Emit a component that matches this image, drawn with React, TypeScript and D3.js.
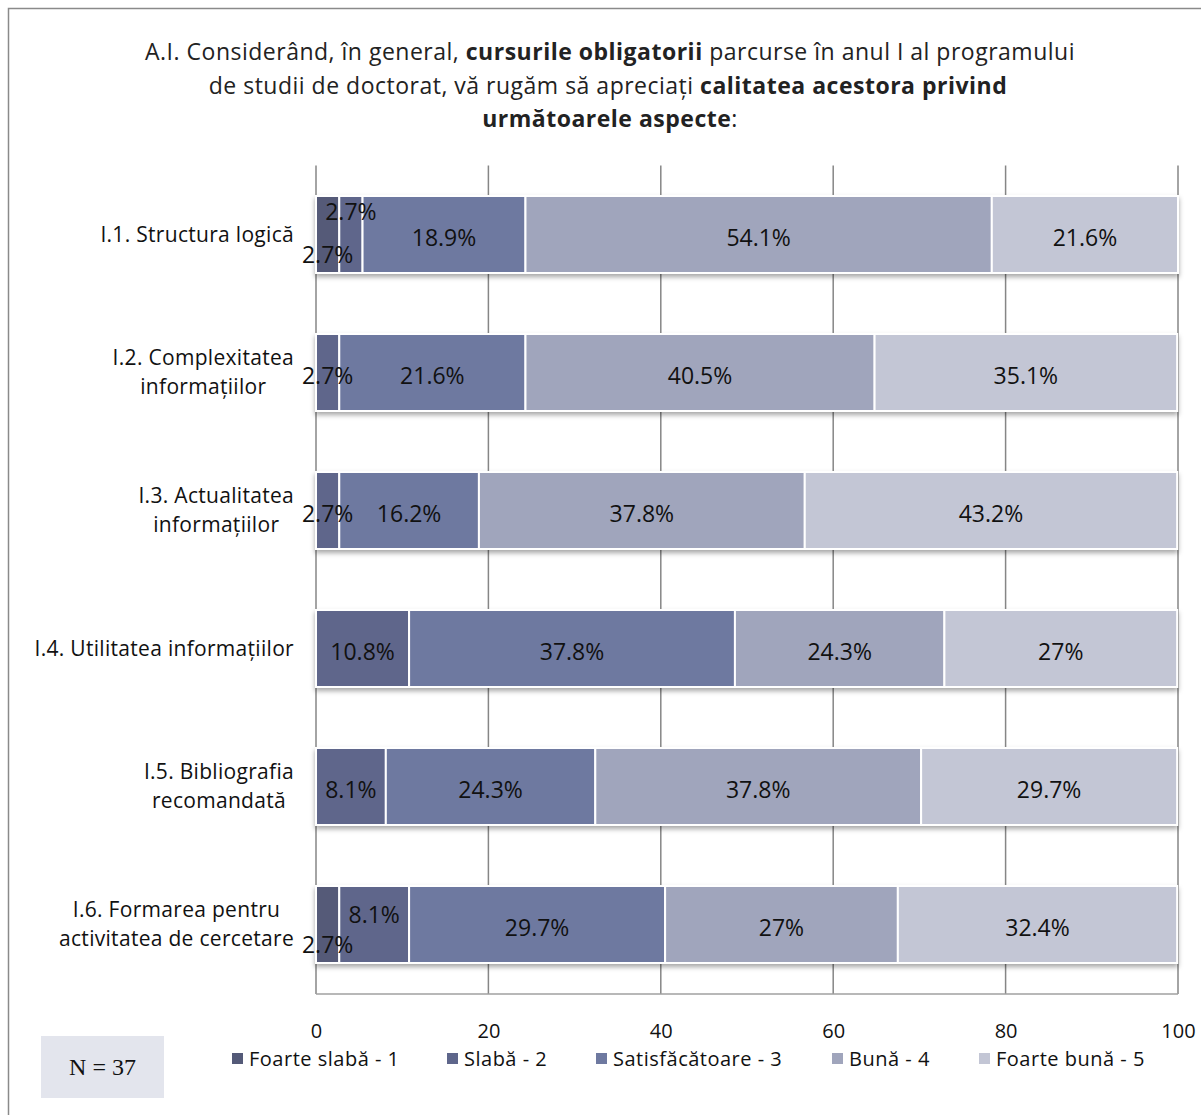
import React, { useEffect, useRef } from "react";
import * as d3 from "d3";

const categories = [
  "I.1. Structura logică",
  "I.2. Complexitatea\ninformațiilor",
  "I.3. Actualitatea\ninformațiilor",
  "I.4. Utilitatea informațiilor",
  "I.5. Bibliografia\nrecomandată",
  "I.6. Formarea pentru\nactivitatea de cercetare",
];

const seriesNames = [
  "Foarte slabă - 1",
  "Slabă - 2",
  "Satisfăcătoare - 3",
  "Bună - 4",
  "Foarte bună - 5",
];

const foarteSlaba = [2.7, 0, 0, 0, 0, 2.7];
const slaba = [2.7, 2.7, 2.7, 10.8, 8.1, 8.1];
const satisfacatoare = [18.9, 21.6, 16.2, 37.8, 24.3, 29.7];
const buna = [54.1, 40.5, 37.8, 24.3, 37.8, 27];
const foarteBuna = [21.6, 35.1, 43.2, 27, 29.7, 32.4];

const xTicks = [0, 20, 40, 60, 80, 100];

const colors = ["#545a78", "#5e668b", "#6e79a0", "#a0a5bc", "#c3c6d5"];

// layout: label nudges (row, series) -> dy
const labelNudges: Record<string, number> = {
  "0-0": 17,
  "0-1": -26,
  "5-0": 17,
  "5-1": -13,
};

const legendX = [232, 447, 596, 832, 979];

export default function App() {
  const ref = useRef<SVGSVGElement>(null);

  useEffect(() => {
    const svg = d3.select(ref.current);
    svg.selectAll("*").remove();
    const font = "'Open Sans', sans-serif";

    const defs = svg.append("defs");
    const f = defs.append("filter").attr("id", "shadow").attr("x", "-5%").attr("y", "-20%").attr("width", "110%").attr("height", "150%");
    f.append("feDropShadow").attr("dx", 0).attr("dy", 3).attr("stdDeviation", 2.5).attr("flood-color", "#000").attr("flood-opacity", 0.35);

    // frame
    svg.append("rect").attr("x", 8.5).attr("y", 8.5).attr("width", 1200).attr("height", 1120)
      .attr("fill", "#fff").attr("stroke", "#8a8a8a").attr("stroke-width", 1.5);

    // title
    const title = svg.append("text").attr("text-anchor", "middle").attr("font-family", font)
      .attr("font-size", 23).attr("letter-spacing", 0.5).attr("fill", "#222");
    const l1 = title.append("tspan").attr("x", 610).attr("y", 60);
    l1.append("tspan").text("A.I. Considerând, în general, ");
    l1.append("tspan").attr("font-weight", "bold").text("cursurile obligatorii");
    l1.append("tspan").text(" parcurse în anul I al programului");
    const l2 = title.append("tspan").attr("x", 608).attr("y", 94);
    l2.append("tspan").text("de studii de doctorat, vă rugăm să apreciați ");
    l2.append("tspan").attr("font-weight", "bold").text("calitatea acestora privind");
    const l3 = title.append("tspan").attr("x", 610).attr("y", 127);
    l3.append("tspan").attr("font-weight", "bold").text("următoarele aspecte");
    l3.append("tspan").text(":");

    const x = d3.scaleLinear().domain([0, 100]).range([316, 1178]);
    const y = d3.scaleBand<number>().domain(d3.range(categories.length))
      .range([165.5, 993.5]).paddingInner(0.442).paddingOuter(0.221);

    // gridlines
    svg.append("g").selectAll("line").data(xTicks.slice(1)).join("line")
      .attr("x1", (d) => x(d)).attr("x2", (d) => x(d))
      .attr("y1", 165.5).attr("y2", 994)
      .attr("stroke", "#868686").attr("stroke-width", 1.5);
    // left axis & bottom
    svg.append("line").attr("x1", x(0)).attr("x2", x(0)).attr("y1", 165.5).attr("y2", 994)
      .attr("stroke", "#868686").attr("stroke-width", 1.5);
    svg.append("line").attr("x1", x(0)).attr("x2", x(100)).attr("y1", 994).attr("y2", 994)
      .attr("stroke", "#a0a0a0").attr("stroke-width", 1.5);

    const table = categories.map((c, i) => ({
      i,
      values: [foarteSlaba[i], slaba[i], satisfacatoare[i], buna[i], foarteBuna[i]],
    }));
    const stack = d3.stack<any, number>().keys([0, 1, 2, 3, 4]).value((d, k) => d.values[k]);
    const stacked = stack(table);

    const bars = svg.append("g").attr("filter", "url(#shadow)");
    stacked.forEach((layer, k) => {
      bars.selectAll(null).data(layer.filter((d) => d[1] - d[0] > 0)).join("rect")
        .attr("x", (d) => x(d[0]))
        .attr("width", (d) => x(d[1]) - x(d[0]))
        .attr("y", (d) => y(d.data.i)!)
        .attr("height", y.bandwidth())
        .attr("fill", colors[k])
        .attr("stroke", "#fff").attr("stroke-width", 2);
    });

    // data labels
    const labels = svg.append("g").attr("font-family", font).attr("font-size", 23)
      .attr("fill", "#111").attr("text-anchor", "middle");
    stacked.forEach((layer, k) => {
      layer.forEach((d) => {
        const v = d[1] - d[0];
        if (v <= 0) return;
        const nud = labelNudges[`${d.data.i}-${k}`] ?? 0;
        labels.append("text")
          .attr("x", (x(d[0]) + x(d[1])) / 2)
          .attr("y", y(d.data.i)! + y.bandwidth() / 2 + 3 + nud)
          .attr("dy", "0.35em")
          .text(`${d3.format(".3~")(v)}%`);
      });
    });

    // category labels
    const cat = svg.append("g").attr("font-family", font).attr("font-size", 21)
      .attr("letter-spacing", 0.3).attr("fill", "#111");
    categories.forEach((c, i) => {
      const lines = c.split("\n");
      const cy = y(i)! + y.bandwidth() / 2;
      const g = cat.append("g");
      const texts = lines.map((ln, j) =>
        g.append("text").attr("text-anchor", "middle")
          .attr("y", cy + (j - (lines.length - 1) / 2) * 29)
          .attr("dy", "0.35em").text(ln)
      );
      const maxW = d3.max(texts, (t) => (t.node() as SVGTextElement).getComputedTextLength()) || 0;
      texts.forEach((t) => t.attr("x", 294 - maxW / 2));
    });

    // x axis ticks
    const axis = svg.append("g").attr("transform", "translate(0,994)")
      .call(d3.axisBottom(x).tickValues(xTicks).tickSize(0).tickPadding(30).tickFormat(d3.format("d")));
    axis.select(".domain").remove();
    axis.selectAll("text").attr("font-family", font).attr("font-size", 20).attr("fill", "#111");

    // N box
    svg.append("rect").attr("x", 41).attr("y", 1036).attr("width", 123).attr("height", 62).attr("fill", "#e3e5ed");
    svg.append("text").attr("x", 102.5).attr("y", 1067).attr("dy", "0.35em").attr("text-anchor", "middle")
      .attr("font-family", "'Liberation Serif', serif").attr("font-size", 24).attr("fill", "#111").text("N = 37");

    // legend
    const lg = svg.append("g").attr("font-family", font).attr("font-size", 20)
      .attr("letter-spacing", 0.5).attr("fill", "#111");
    seriesNames.forEach((s, k) => {
      lg.append("rect").attr("x", legendX[k]).attr("y", 1053).attr("width", 11).attr("height", 11).attr("fill", colors[k]);
      lg.append("text").attr("x", legendX[k] + 17).attr("y", 1059).attr("dy", "0.35em").text(s);
    });
  }, []);

  return (
    <svg ref={ref} width={1201} height={1115}
      style={{ position: "absolute", left: 0, top: 0, background: "#fff" }} />
  );
}
